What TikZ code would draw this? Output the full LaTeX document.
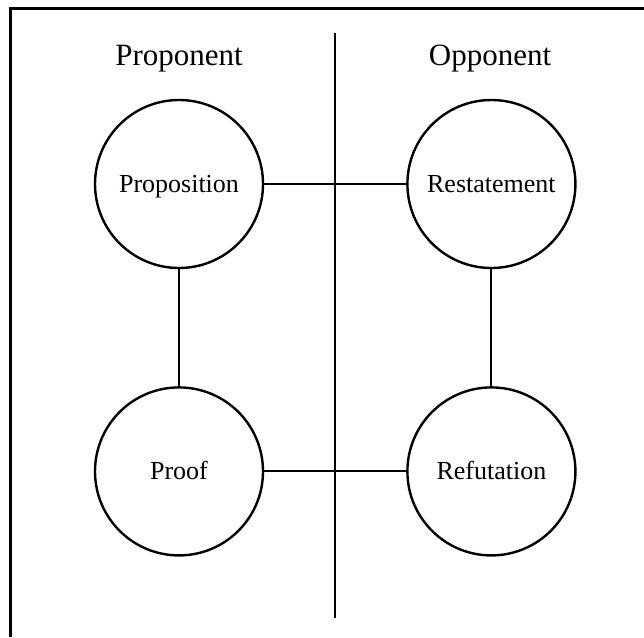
\documentclass[tikz,border=0pt]{standalone}
\usepackage{fontspec}
\setmainfont{Liberation Serif}
\usetikzlibrary{positioning}

\begin{document}
\begin{tikzpicture}[
  x=1pt, y=-1pt,
  node distance=117pt and 142pt,
  rolebox/.style={circle, draw=black, line width=2.4pt, minimum size=168pt,
                  inner sep=0pt, text height=17pt, text depth=0pt,
                  font=\fontsize{26}{30}\selectfont},
  heading/.style={anchor=base, inner sep=0pt, font=\fontsize{31}{36}\selectfont},
  link/.style={draw=black, line width=2pt}
]
\useasboundingbox (0,0) rectangle (644,637);

% frame, cut at the page edge
\draw[line width=3pt] (10,637) -- (10,8) -- (644,8);

% two sides
\node[heading] (proponent) at (179,65) {Proponent};
\node[heading] (opponent) at (490,65) {Opponent};
\coordinate (divtop) at (335,33);
\coordinate (divbot) at (335,618);
\draw[link] (divtop) -- (divbot);

\node[rolebox] (proposition) at (179,184) {Proposition};
\node[rolebox, right=of proposition] (restatement) {Restatement};
\node[rolebox, below=of proposition] (proof) {Proof};
\node[rolebox, below=of restatement] (refutation) {Refutation};

\draw[link] (proposition) -- (restatement);
\draw[link] (proposition) -- (proof);
\draw[link] (restatement) -- (refutation);
\draw[link] (proof) -- (refutation);
\end{tikzpicture}
\end{document}
